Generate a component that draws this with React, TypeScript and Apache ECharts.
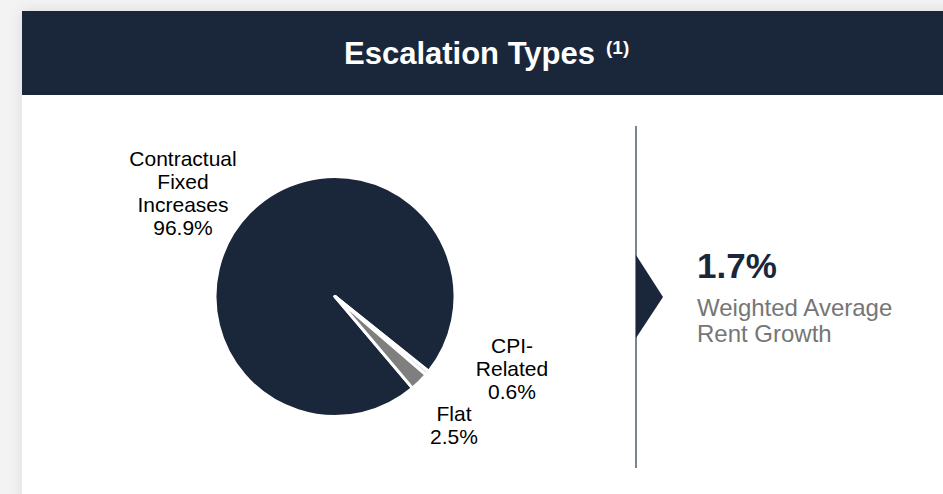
import React, { useEffect, useRef } from "react";
import * as echarts from "echarts";

// ---- data ----
const categories: string[] = ["Contractual\nFixed\nIncreases", "CPI-\nRelated", "Flat"];
const shares: number[] = [96.9, 0.6, 2.5];
const sliceColors: string[] = ["#1a2639", "#dbe4f0", "#7f7f7f"];
const titleText = "Escalation Types";
const titleNote = "(1)";
const headlineValue = "1.7%";
const headlineLabel = "Weighted Average\nRent Growth";

const NAVY = "#1a2639";
const FONT = "'Liberation Sans', Arial, sans-serif";

// label anchor points (centres of text blocks)
const labelPos: number[][] = [
  [183, 193],
  [512, 368],
  [454, 425],
];

export default function App() {
  const ref = useRef<HTMLDivElement>(null);
  useEffect(() => {
    document.body.style.margin = "0";
    if (!ref.current) return;
    const chart = echarts.init(ref.current, undefined, { renderer: "svg" });
    chart.setOption({
      animation: false,
      backgroundColor: "#f3f3f3",
      graphic: [
        {
          type: "rect",
          z: 0,
          shape: { x: 22, y: 11, width: 940, height: 500 },
          style: { fill: "#ffffff", shadowBlur: 14, shadowColor: "rgba(0,0,0,0.10)" },
        },
        {
          type: "rect",
          z: 1,
          shape: { x: 22, y: 11, width: 940, height: 84 },
          style: { fill: NAVY },
        },
        {
          type: "text",
          z: 5,
          x: 344,
          y: 53.6,
          style: {
            text: titleText,
            fill: "#ffffff",
            font: `bold 31px ${FONT}`,
            align: "left",
            verticalAlign: "middle",
          },
        },
        {
          type: "text",
          z: 5,
          x: 606,
          y: 47.7,
          style: {
            text: titleNote,
            fill: "#ffffff",
            font: `bold 19px ${FONT}`,
            align: "left",
            verticalAlign: "middle",
          },
        },
        {
          type: "line",
          z: 2,
          shape: { x1: 636, y1: 126, x2: 636, y2: 468 },
          style: { stroke: "#4f5b6b", lineWidth: 1.5 },
        },
        {
          type: "polygon",
          z: 3,
          shape: { points: [[636, 255], [663, 297], [636, 338]] },
          style: { fill: NAVY },
        },
        {
          type: "text",
          z: 5,
          x: 697,
          y: 265,
          style: {
            text: headlineValue,
            fill: NAVY,
            font: `bold 35px ${FONT}`,
            align: "left",
            verticalAlign: "middle",
          },
        },
        {
          type: "text",
          z: 5,
          x: 697,
          y: 320.5,
          style: {
            text: headlineLabel,
            fill: "#767676",
            font: `24px ${FONT}`,
            lineHeight: 26,
            align: "left",
            verticalAlign: "middle",
          },
        },
      ],
      series: [
        {
          type: "pie",
          center: [335, 296.5],
          radius: [0, 120],
          startAngle: -49.8,
          clockwise: true,
          avoidLabelOverlap: false,
          z: 4,
          itemStyle: { borderColor: "#ffffff", borderWidth: 3 },
          label: {
            show: true,
            position: "outside",
            color: "#000000",
            fontFamily: FONT,
            fontSize: 21,
            lineHeight: 23,
            align: "center",
            formatter: (p: any) => `${p.name}\n${Number(p.value).toFixed(1)}%`,
          },
          labelLine: { show: false },
          labelLayout: (params: any) => {
            const p = labelPos[params.dataIndex];
            return { x: p[0], y: p[1], align: "center", verticalAlign: "middle" };
          },
          emphasis: { disabled: true },
          data: categories.map((name, i) => ({
            name,
            value: shares[i],
            itemStyle: { color: sliceColors[i] },
          })),
        },
      ],
    });
    return () => chart.dispose();
  }, []);
  return <div ref={ref} style={{ width: 943, height: 494 }} />;
}
